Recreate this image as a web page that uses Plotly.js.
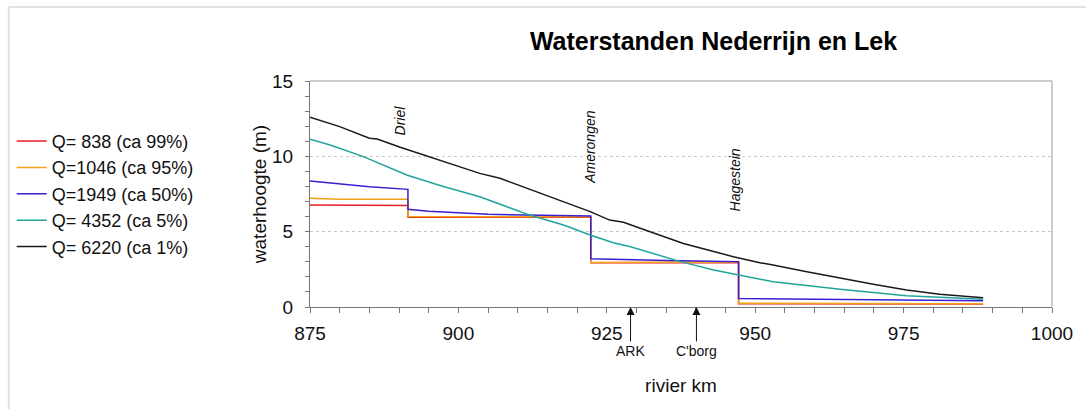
<!DOCTYPE html>
<html>
<head>
<meta charset="utf-8">
<script src="https://cdn.plot.ly/plotly-3.0.1.min.js"></script>
<style>html,body{margin:0;padding:0;background:#fff;}#chart{width:1086px;height:409px;}</style>
</head>
<body>
<div id="chart"></div>
<script>
// Data (rivier km vs waterhoogte in m)
const seriesNames = ["Q= 838 (ca 99%)", "Q=1046 (ca 95%)", "Q=1949 (ca 50%)", "Q= 4352 (ca 5%)", "Q= 6220 (ca 1%)"];
const seriesColors = ["#e81c24", "#f5a01a", "#3a1fd0", "#1fa59c", "#1a1a1a"];

const km838 = [875, 891.5, 891.5, 922.3, 922.3, 947.2, 947.2, 988.4];
const h838  = [6.77, 6.73, 5.96, 5.96, 2.93, 2.95, 0.22, 0.2];

const km1046 = [875, 880, 891.5, 891.5, 922.3, 922.3, 947.2, 947.2, 988.4];
const h1046  = [7.21, 7.15, 7.15, 6.0, 5.99, 2.96, 2.98, 0.25, 0.22];

const km1949 = [875, 880, 885, 891.5, 891.5, 895, 905, 922.3, 922.3, 935, 947.2, 947.2, 988.4];
const h1949  = [8.36, 8.15, 7.98, 7.81, 6.48, 6.35, 6.15, 6.04, 3.2, 3.08, 3.0, 0.57, 0.42];

const km4352 = [875, 878.4, 884, 891.3, 896.9, 903.6, 912, 917.7, 922.2, 926.1, 929, 937.4, 943, 947.4, 953, 964.3, 975.5, 988.4];
const h4352  = [11.13, 10.75, 9.98, 8.76, 8.07, 7.32, 6.1, 5.44, 4.78, 4.27, 4.0, 3.01, 2.46, 2.12, 1.68, 1.17, 0.75, 0.51];

const km6220 = [875, 880, 885, 886.3, 890.2, 896.9, 903.6, 907, 912, 917.1, 922.2, 925.5, 927.8, 931.7, 937.9, 943, 946.3, 950.8, 953, 958.7, 964.3, 969.9, 975.5, 981.1, 988.4];
const h6220  = [12.59, 11.97, 11.2, 11.15, 10.6, 9.75, 8.87, 8.54, 7.81, 7.08, 6.33, 5.77, 5.62, 5.08, 4.22, 3.69, 3.34, 2.94, 2.79, 2.34, 1.9, 1.51, 1.13, 0.84, 0.62];

const placeNames = ["Driel", "Amerongen", "Hagestein"];
const placeKm = [890.2, 922.2, 946.6];
const placeH = [12.4, 10.64, 8.4];

const markerNames = ["ARK", "C'borg"];
const markerKm = [929.0, 940.1];

const xs = [km838, km1046, km1949, km4352, km6220];
const ys = [h838, h1046, h1949, h4352, h6220];

const traces = xs.map((x, i) => ({
  type: "scatter", mode: "lines", x: x, y: ys[i], name: seriesNames[i],
  line: {color: seriesColors[i], width: 1.5}
}));

const annotations = [];
placeNames.forEach((t, i) => annotations.push({
  x: placeKm[i], y: placeH[i], xref: "x", yref: "y", text: "<i>" + t + "</i>",
  showarrow: false, textangle: -90, font: {family: "Liberation Sans, Arial, sans-serif", size: 14, color: "#111"}
}));
markerNames.forEach((t, i) => annotations.push({
  x: markerKm[i], y: 0, xref: "x", yref: "y", text: t, showarrow: true,
  ax: 0, ay: 44, arrowhead: 2, arrowsize: 1.6, arrowwidth: 1, arrowcolor: "#111", standoff: 0,
  font: {family: "Liberation Sans, Arial, sans-serif", size: 14, color: "#111"}
}));

const layout = {
  width: 1086, height: 409,
  margin: {l: 310, r: 34, t: 81, b: 102},
  paper_bgcolor: "#fff", plot_bgcolor: "#fff",
  font: {family: "Liberation Sans, Arial, sans-serif", size: 19, color: "#111"},
  title: {text: "<b>Waterstanden Nederrijn en Lek</b>", x: 0.657, xanchor: "center", y: 0.9, yanchor: "middle",
          font: {family: "Liberation Sans, Arial, sans-serif", size: 25, color: "#000"}},
  showlegend: true,
  legend: {x: -0.402, xanchor: "left", y: 0.815, yanchor: "top", bgcolor: "rgba(0,0,0,0)",
           font: {size: 18, color: "#111"}, tracegroupgap: 0, itemwidth: 30},
  xaxis: {range: [875, 1000], tickmode: "linear", tick0: 875, dtick: 25, ticks: "outside", ticklen: 5, tickcolor: "#777",
          showline: true, linecolor: "#777", linewidth: 1, showgrid: false, zeroline: false,
          minor: {dtick: 5, tick0: 875, ticks: "outside", ticklen: 5, tickcolor: "#777", showgrid: false},
          ticklabelstandoff: 4,
          title: {text: "rivier km", standoff: 35, font: {size: 19}}},
  yaxis: {range: [0, 15], tickmode: "linear", tick0: 0, dtick: 5, ticks: "outside", ticklen: 4, tickcolor: "#777",
          showline: true, linecolor: "#777", linewidth: 1, showgrid: true, gridcolor: "#c8c8c8", griddash: "dot", gridwidth: 1,
          zeroline: false,
          minor: {dtick: 1, ticks: "outside", ticklen: 4, tickcolor: "#777", showgrid: false},
          ticklabelstandoff: 8,
          title: {text: "waterhoogte (m)", standoff: 0, font: {size: 19}}},
  shapes: [
    {type: "line", xref: "paper", yref: "paper", x0: 0, x1: 1, y0: 1, y1: 1, line: {color: "#999", width: 1}, layer: "below"},
    {type: "line", xref: "paper", yref: "paper", x0: 1, x1: 1, y0: 0, y1: 1, line: {color: "#999", width: 1}, layer: "below"},
    {type: "line", xref: "paper", yref: "paper", x0: -0.406, x1: 1.05, y0: 1.327, y1: 1.327, line: {color: "#e2e2e2", width: 2}},
    {type: "line", xref: "paper", yref: "paper", x0: -0.406, x1: -0.406, y0: -0.46, y1: 1.327, line: {color: "#e2e2e2", width: 2}}
  ],
  annotations: annotations
};

Plotly.newPlot("chart", traces, layout, {displayModeBar: false, staticPlot: true});
</script>
</body>
</html>
